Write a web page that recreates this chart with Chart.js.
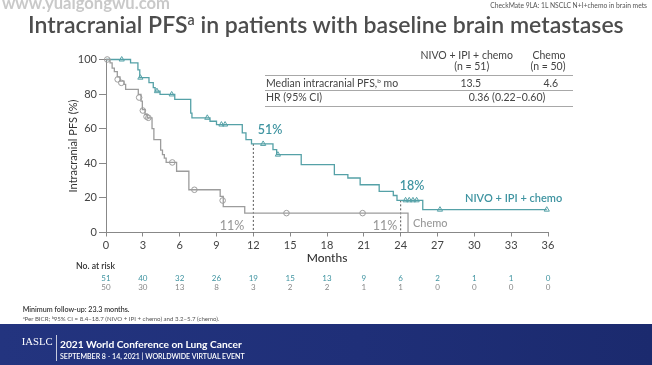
<!DOCTYPE html>
<html><head><meta charset="utf-8">
<script src="https://cdn.jsdelivr.net/npm/chart.js@4.4.1/dist/chart.umd.min.js"></script>
<style>
html,body{margin:0;padding:0;background:#fff;}
#wrap{position:relative;width:652px;height:365px;overflow:hidden;background:#fff;font-family:Lato,"Open Sans",sans-serif;}
#c{position:absolute;left:0;top:0;}
.t{position:absolute;white-space:nowrap;line-height:1.2;}
#band{position:absolute;left:0;top:324px;width:652px;height:41px;background:linear-gradient(90deg,#23347f 0%,#1f2f78 55%,#1b2a6e 100%);}
.hl{position:absolute;height:1px;background:#a8a8a8;}
#div1{position:absolute;left:56px;top:335px;width:1px;height:26px;background:rgba(255,255,255,0.75);}
</style></head><body>
<div id="wrap">
<div id="band"></div>
<div id="div1"></div>
<canvas id="c" width="652" height="365"></canvas>
</div>
<script>
// ---------- data ----------
const monthTicks = [0,3,6,9,12,15,18,21,24,27,30,33,36];
const yTicks = [0,20,40,60,80,100];

const nivoTime = [0,2.0,2.6,2.75,3.5,3.85,4.0,4.4,5.6,6.9,7.0,8.47,9.0,11.1,11.4,11.85,13.6,13.9,15.9,18.6,19.7,20.7,22.25,23.4,23.7,25.8,35.9];
const nivoPFS  = [100,98,94,89.5,86.6,83.7,81.7,79.8,76.9,69,66.3,64.3,62.4,57.6,53.7,51.2,47.9,45,39.2,33.4,31.5,27.6,23.8,21.4,18.6,13.2,13.2];

const chemoTime = [0,0.33,0.5,0.68,0.92,1.14,1.47,1.6,2.63,2.85,2.96,3.18,3.36,3.75,3.9,4.45,4.6,4.75,4.9,5.75,6.75,9.3,9.55,11.3,24.6];
const chemoPFS  = [100,98,95,93,90,87.5,85.6,82.7,79.8,75.9,71,68.2,66.3,60,53.7,47.6,45,43,40.5,35.4,24.7,20.9,15,11.2,0];

const nivoCensTime = [1.28,2.8,4.15,5.35,8.25,9.4,9.7,12.8,14.0,24.4,24.7,25.0,25.3,27.2,35.9];
const nivoCensPFS  = [100,89.5,81.7,79.8,66.3,62.4,62.4,51.2,45,18.6,18.6,18.6,18.6,13.2,13.2];

const chemoCensTime = [0.1,0.95,1.25,2.7,3.0,3.3,3.45,5.4,7.2,9.5,14.7,20.9];
const chemoCensPFS  = [100,88.5,86.5,78,70.5,67,66.3,40.5,24.7,18.5,11.2,11.2];

const landmarkMonths = [12,24];
const landmarkNivo = [51,18];
const landmarkChemo = [11,11];

const riskNivo  = [51,40,32,26,19,15,13,9,6,2,1,1,0];
const riskChemo = [50,30,13,8,3,2,2,1,1,0,0,0,0];

// ---------- helpers ----------
const teal = '#55a1a7', tealText = '#3f94a1', gray = '#9c9c9c', grayText = '#9a9a9a';
const pts = (t,s) => t.map((v,i)=>({x:v,y:s[i]}));
function stepAt(t, s, m){ let v=s[0]; for(let i=0;i<t.length;i++){ if(t[i]<=m) v=s[i]; } return v; }
const wrap = document.getElementById('wrap');
function addText(html, x, y, o){
  const d=document.createElement('div'); d.className='t'; d.innerHTML=html;
  d.style.fontSize=o.size+'px'; d.style.fontWeight=o.weight||400; d.style.color=o.color||'#444';
  if(o.family) d.style.fontFamily=o.family;
  wrap.appendChild(d);
  if(o.width){ const w0=d.getBoundingClientRect().width; d.style.fontSize=(o.size*o.width/w0)+'px'; }
  const r=d.getBoundingClientRect(); const w=r.width, h=r.height;
  const left = o.align==='center'? x-w/2 : o.align==='right'? x-w : x;
  d.style.left=left+'px'; d.style.top=(y-h/2)+'px';
  return d;
}
function hline(x1,x2,y){ const d=document.createElement('div'); d.className='hl'; d.style.left=x1+'px'; d.style.width=(x2-x1)+'px'; d.style.top=y+'px'; wrap.appendChild(d); }
const sup = s => '<span style="font-size:0.62em;position:relative;top:-0.55em">'+s+'</span>';

function build(){
  // header texts
  addText('www.yuaigongwu.com', 2, 4, {size:13, weight:700, color:'#c9c9c9', width:168});
  addText('CheckMate 9LA: 1L NSCLC N+I+chemo in brain mets', 647, 5.5, {size:7, color:'#555', align:'right', width:157});
  addText('Intracranial PFS'+sup('a')+' in patients with baseline brain metastases', 28, 24.5, {size:22, weight:600, color:'#4d4d4d', width:596});

  // table
  const tf = {size:10.5, color:'#444'};
  addText('NIVO + IPI + chemo', 466.7, 55, Object.assign({align:'center'}, tf));
  addText('(n = 51)', 471.7, 66.7, Object.assign({align:'center'}, tf));
  addText('Chemo', 549, 55, Object.assign({align:'center'}, tf));
  addText('(n = 50)', 548, 66.7, Object.assign({align:'center'}, tf));
  hline(265,573,75);
  addText('Median intracranial PFS,'+sup('b')+' mo', 266, 83.3, tf);
  addText('13.5', 470.8, 83.3, Object.assign({align:'center'}, tf));
  addText('4.6', 550.8, 83.3, Object.assign({align:'center'}, tf));
  hline(265,573,90);
  addText('HR (95% CI)', 266, 97.3, tf);
  addText('0.36 (0.22–0.60)', 507, 97.3, Object.assign({align:'center'}, tf));
  hline(265,573,106);

  addText('No. at risk', 76, 266.7, {size:8, weight:600, color:'#333', width:39});

  // footer
  addText('Minimum follow-up: 23.3 months.', 22.7, 310.7, {size:8, weight:600, color:'#333', width:107});
  addText(sup('a')+'Per BICR; '+sup('b')+'95% CI = 8.4–18.7 (NIVO + IPI + chemo) and 3.2–5.7 (chemo).', 22.7, 318.7, {size:6, color:'#555', width:197});
  addText('IASLC', 21.7, 341.7, {size:11, color:'#fff', family:'"Liberation Serif",serif', width:31});
  addText('2021 World Conference on Lung Cancer', 60, 344.3, {size:12, weight:700, color:'#fff', width:182});
  addText('SEPTEMBER 8 - 14, 2021 | WORLDWIDE VIRTUAL EVENT', 60, 356, {size:7, weight:600, color:'#fff', width:185});

  const lm12 = stepAt(nivoTime, nivoPFS, landmarkMonths[0]);
  const lm24 = stepAt(nivoTime, nivoPFS, landmarkMonths[1]);

  const annots = [
    {text: landmarkNivo[0]+'%', x:13.36, y:59.4, color:tealText, font:'600 12.5px Lato', align:'center'},
    {text: landmarkChemo[0]+'%', x:10.26, y:4.0, color:grayText, font:'500 12.5px Lato', align:'center'},
    {text: landmarkChemo[1]+'%', x:22.72, y:4.0, color:grayText, font:'500 12.5px Lato', align:'center'},
    {text: landmarkNivo[1]+'%', x:24.92, y:27.0, color:tealText, font:'600 12.5px Lato', align:'center'},
    {text: 'NIVO + IPI + chemo', x:29.24, y:19.4, color:tealText, font:'600 11px Lato', align:'left'},
    {text: 'Chemo', x:25.0, y:5.5, color:grayText, font:'500 11px Lato', align:'left'}
  ];

  const overlay = {
    id:'overlay',
    afterDraw(chart){
      const {ctx, chartArea:a, scales:{x, y}} = chart;
      ctx.save();
      ctx.textBaseline='middle';
      ctx.fillStyle='#333'; ctx.font='500 12px Lato'; ctx.textAlign='center';
      ctx.fillText('Months', x.getPixelForValue(18), a.bottom+25.5);
      annots.forEach(an=>{
        ctx.fillStyle=an.color; ctx.font=an.font; ctx.textAlign=an.align;
        ctx.fillText(an.text, x.getPixelForValue(an.x), y.getPixelForValue(an.y));
      });
      ctx.font='8px Lato'; ctx.textAlign='center';
      monthTicks.forEach((m,i)=>{
        const px=x.getPixelForValue(m);
        ctx.fillStyle=tealText; ctx.fillText(String(riskNivo[i]), px, a.bottom+45.5);
        ctx.fillStyle='#888'; ctx.fillText(String(riskChemo[i]), px, a.bottom+54.5);
      });
      ctx.restore();
    }
  };

  Chart.defaults.font.family = 'Lato, "Open Sans", sans-serif';
  new Chart(document.getElementById('c'), {
    type:'line',
    data:{datasets:[
      {data:pts(chemoTime,chemoPFS), borderColor:gray, borderWidth:1.3, stepped:'before', pointRadius:0, fill:false, clip:false},
      {data:pts(nivoTime,nivoPFS), borderColor:teal, borderWidth:1.3, stepped:'before', pointRadius:0, fill:false, clip:false},
      {data:pts(chemoCensTime,chemoCensPFS), showLine:false, pointStyle:'circle', pointRadius:2.8, pointBorderWidth:1, pointBorderColor:gray, pointBackgroundColor:'rgba(255,255,255,0)', clip:false},
      {data:pts(nivoCensTime,nivoCensPFS), showLine:false, pointStyle:'triangle', pointRadius:3, pointBorderWidth:1, pointBorderColor:teal, pointBackgroundColor:'rgba(255,255,255,0)', clip:false},
      {data:[{x:landmarkMonths[0],y:lm12},{x:landmarkMonths[0],y:0}], borderColor:'#555', borderWidth:1, borderDash:[2,2], pointRadius:0, clip:false},
      {data:[{x:landmarkMonths[1],y:lm24},{x:landmarkMonths[1],y:0}], borderColor:'#555', borderWidth:1, borderDash:[2,2], pointRadius:0, clip:false}
    ]},
    options:{
      responsive:false, animation:false, devicePixelRatio:1,
      layout:{padding:{left:60, top:59.5, right:104, bottom:0}},
      plugins:{legend:{display:false}, tooltip:{enabled:false}},
      scales:{
        x:{type:'linear', min:0, max:36,
           afterFit(s){ s.height = 365-232.5; },
           afterBuildTicks(s){ s.ticks = monthTicks.map(v=>({value:v})); },
           ticks:{color:'#444', font:{size:11}, padding:2, maxRotation:0, autoSkip:false},
           grid:{display:true, drawOnChartArea:false, drawTicks:true, tickLength:4, color:'#888'},
           border:{display:true, color:'#888', width:1}},
        y:{type:'linear', min:0, max:100,
           afterFit(s){ s.width = 46; },
           afterBuildTicks(s){ s.ticks = yTicks.map(v=>({value:v})); },
           ticks:{color:'#444', font:{size:11}, padding:2},
           grid:{display:true, drawOnChartArea:false, drawTicks:true, tickLength:7, color:'#888'},
           border:{display:true, color:'#888', width:1},
           title:{display:true, text:'Intracranial PFS (%)', color:'#333', font:{size:11}, padding:{top:6.4, bottom:0}}}
      }
    },
    plugins:[overlay]
  });
}
if (document.fonts && document.fonts.ready) { document.fonts.ready.then(build); } else { build(); }
</script>
</body></html>
